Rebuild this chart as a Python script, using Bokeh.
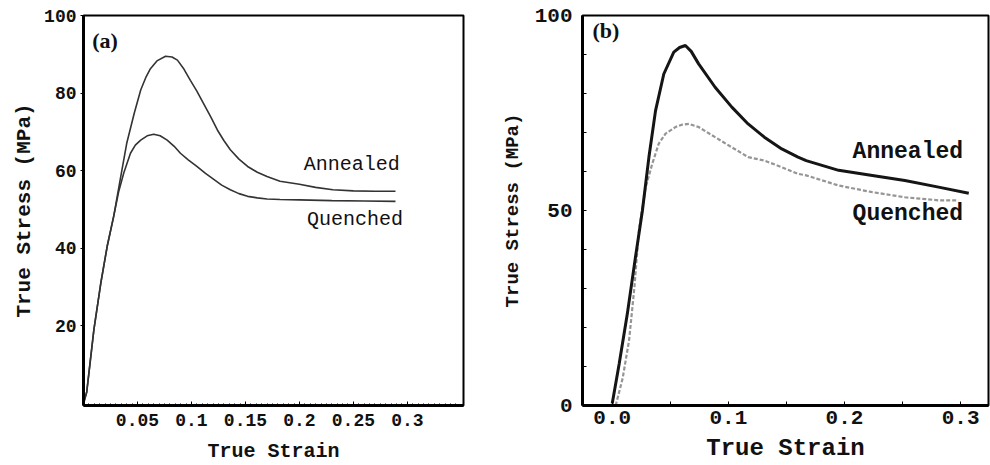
from bokeh.plotting import figure
from bokeh.models import FixedTicker, Label, Range1d
from bokeh.layouts import row
from bokeh.embed import file_html
from bokeh.resources import INLINE
import numpy as np

# ---------------- data: panel (a) ----------------
a_strain_ann = [0.0, 0.003, 0.0096, 0.016, 0.022, 0.028, 0.034, 0.040, 0.047, 0.053,
                0.058, 0.062, 0.068, 0.076, 0.082, 0.087, 0.093, 0.099, 0.105, 0.111,
                0.118, 0.124, 0.130, 0.136, 0.144, 0.152, 0.161, 0.170, 0.182, 0.200,
                0.215, 0.231, 0.250, 0.270, 0.289]
a_stress_ann = [0, 3, 19, 31, 40.6, 48.3, 57.7, 67, 74.8, 80.8,
                84.2, 86.3, 88.3, 89.5, 89.3, 88.5, 86.2, 83.3, 80.5, 77.4,
                73.8, 70.5, 67.8, 65.4, 63.0, 61.1, 59.6, 58.5, 57.3, 56.5,
                55.7, 55.1, 54.8, 54.7, 54.7]

a_strain_q = [0.0, 0.003, 0.0096, 0.016, 0.022, 0.028, 0.0325, 0.0373, 0.0435, 0.048,
              0.053, 0.059, 0.065, 0.071, 0.0775, 0.084, 0.0898, 0.097, 0.105, 0.113,
              0.121, 0.128, 0.136, 0.144, 0.152, 0.161, 0.170, 0.182, 0.200, 0.230,
              0.260, 0.289]
a_stress_q = [0, 3, 19, 31, 40.6, 48.3, 54.5, 59.4, 64.5, 66.6,
              67.9, 69.0, 69.4, 69.0, 67.9, 66.3, 64.5, 62.8, 61.1, 59.3,
              57.7, 56.3, 55.1, 54.1, 53.4, 53.0, 52.7, 52.6, 52.5, 52.3,
              52.2, 52.1]

a_xticks = [0.05, 0.1, 0.15, 0.2, 0.25, 0.3]
a_xlabels = ["0.05", "0.1", "0.15", "0.2", "0.25", "0.3"]
a_yticks = [20, 40, 60, 80, 100]
a_ylabels = ["20", "40", "60", "80", "100"]

# ---------------- data: panel (b) ----------------
b_strain_ann = [0.0, 0.006, 0.013, 0.020, 0.026, 0.0316, 0.0373, 0.0444, 0.053, 0.058,
                0.063, 0.068, 0.0744, 0.0886, 0.103, 0.117, 0.131, 0.146, 0.160, 0.167,
                0.195, 0.224, 0.252, 0.281, 0.307]
b_stress_ann = [0.5, 10.7, 23.5, 38, 50, 63.7, 75.6, 85, 90.6, 91.8,
                92.3, 90.8, 87.6, 81.6, 76.5, 72.2, 68.8, 65.8, 63.7, 62.8,
                60.3, 59.0, 57.7, 56.0, 54.4]

b_strain_q = [0.003, 0.009, 0.0145, 0.019, 0.023, 0.0288, 0.0345, 0.040, 0.0459, 0.0544,
              0.060, 0.066, 0.0744, 0.0886, 0.103, 0.117, 0.131, 0.146, 0.160, 0.167,
              0.195, 0.224, 0.252, 0.281, 0.298]
b_stress_q = [0, 7, 16.7, 30, 44.9, 56, 62, 67.1, 69.7, 71.4,
              72.0, 72.2, 71.4, 68.8, 66.2, 63.7, 62.8, 61.1, 59.4, 59.0,
              56.4, 54.7, 53.4, 52.6, 52.6]

b_xticks = [0.0, 0.1, 0.2, 0.3]
b_xlabels = ["0.0", "0.1", "0.2", "0.3"]
b_yticks = [0, 50, 100]
b_ylabels = ["0", "50", "100"]

MONO = "Liberation Mono"
SERIF = "Liberation Serif"
INK = "#111111"


def base_style(p):
    p.xgrid.visible = False
    p.ygrid.visible = False
    p.background_fill_color = "white"
    p.border_fill_color = "white"
    p.outline_line_color = "black"
    p.outline_line_width = 2
    for ax in (p.xaxis[0], p.yaxis[0]):
        ax.axis_line_color = "black"
        ax.axis_line_width = 3
        ax.major_tick_line_color = "black"
        ax.minor_tick_line_color = "black"
        ax.major_label_text_color = INK
        ax.axis_label_text_color = INK
        ax.major_label_text_font = MONO
        ax.axis_label_text_font = MONO
        ax.major_label_text_font_style = "bold"
        ax.axis_label_text_font_style = "bold"


# ---------------- panel (a) ----------------
pa = figure(width=498, height=465, x_range=Range1d(0, 0.352), y_range=Range1d(-0.5, 100),
            output_backend="svg", toolbar_location=None,
            min_border_left=83, min_border_right=35, min_border_top=15, min_border_bottom=58)
base_style(pa)
pa.line(a_strain_ann, a_stress_ann, line_color="#333333", line_width=1.6)
pa.line(a_strain_q, a_stress_q, line_color="#333333", line_width=1.6)

xa = pa.xaxis[0]
xa.ticker = FixedTicker(ticks=a_xticks, minor_ticks=list(np.arange(0.005, 0.35, 0.005)))
xa.major_label_overrides = dict(zip(a_xticks, a_xlabels))
xa.major_tick_in = 4
xa.major_tick_out = 0
xa.minor_tick_in = 2
xa.minor_tick_out = 0
xa.major_label_text_font_size = "18px"
xa.major_label_standoff = 8
xa.axis_label = "True Strain"
xa.axis_label_text_font_size = "20px"
xa.axis_label_standoff = 11

ya = pa.yaxis[0]
ya.ticker = FixedTicker(ticks=a_yticks)
ya.major_label_overrides = dict(zip(a_yticks, a_ylabels))
ya.major_tick_in = 0
ya.major_tick_out = 3
ya.minor_tick_in = 0
ya.minor_tick_out = 0
ya.major_label_text_font_size = "18px"
ya.major_label_standoff = 4
ya.axis_label = "True Stress (MPa)"
ya.axis_label_text_font_size = "21px"
ya.axis_label_standoff = 5

pa.add_layout(Label(x=0.008, y=93.5, text="(a)", text_font=SERIF, text_font_style="bold",
                    text_font_size="22px", text_baseline="middle", text_color=INK))
pa.add_layout(Label(x=0.204, y=61.5, text="Annealed", text_font=MONO,
                    text_font_size="20px", text_baseline="middle", text_color=INK))
pa.add_layout(Label(x=0.207, y=47.4, text="Quenched", text_font=MONO,
                    text_font_size="20px", text_baseline="middle", text_color=INK))

# ---------------- panel (b) ----------------
pb = figure(width=492, height=465, x_range=Range1d(-0.0256, 0.324), y_range=Range1d(0, 100),
            output_backend="svg", toolbar_location=None,
            min_border_left=80, min_border_right=2, min_border_top=15, min_border_bottom=60)
base_style(pb)
pb.line(b_strain_q, b_stress_q, line_color="#959595", line_width=2.2, line_dash="4 2")
pb.line(b_strain_ann, b_stress_ann, line_color="#151515", line_width=3)

xb = pb.xaxis[0]
xb.ticker = FixedTicker(ticks=b_xticks, minor_ticks=[0.05, 0.15, 0.25])
xb.major_label_overrides = dict(zip(b_xticks, b_xlabels))
xb.major_tick_in = 4
xb.major_tick_out = 0
xb.minor_tick_in = 4
xb.minor_tick_out = 0
xb.major_label_text_font_size = "21px"
xb.major_label_standoff = 5
xb.axis_label = "True Strain"
xb.axis_label_text_font_size = "24px"
xb.axis_label_standoff = 8

yb = pb.yaxis[0]
yb.ticker = FixedTicker(ticks=b_yticks, minor_ticks=[10, 20, 30, 40, 60, 70, 80, 90])
yb.major_label_overrides = dict(zip(b_yticks, b_ylabels))
yb.major_tick_in = 4
yb.major_tick_out = 0
yb.minor_tick_in = 4
yb.minor_tick_out = 0
yb.major_label_text_font_size = "21px"
yb.major_label_standoff = 10
yb.axis_label = "True Stress (MPa)"
yb.axis_label_text_font_size = "19px"
yb.axis_label_standoff = 8

pb.add_layout(Label(x=-0.017, y=96.2, text="(b)", text_font=SERIF, text_font_style="bold",
                    text_font_size="22px", text_baseline="middle", text_color=INK))
pb.add_layout(Label(x=0.207, y=64.9, text="Annealed", text_font=MONO, text_font_style="bold",
                    text_font_size="23px", text_baseline="middle", text_color=INK))
pb.add_layout(Label(x=0.207, y=49.2, text="Quenched", text_font=MONO, text_font_style="bold",
                    text_font_size="23px", text_baseline="middle", text_color=INK))

layout = row(pa, pb)
open("out.html", "w").write(file_html(layout, INLINE))
